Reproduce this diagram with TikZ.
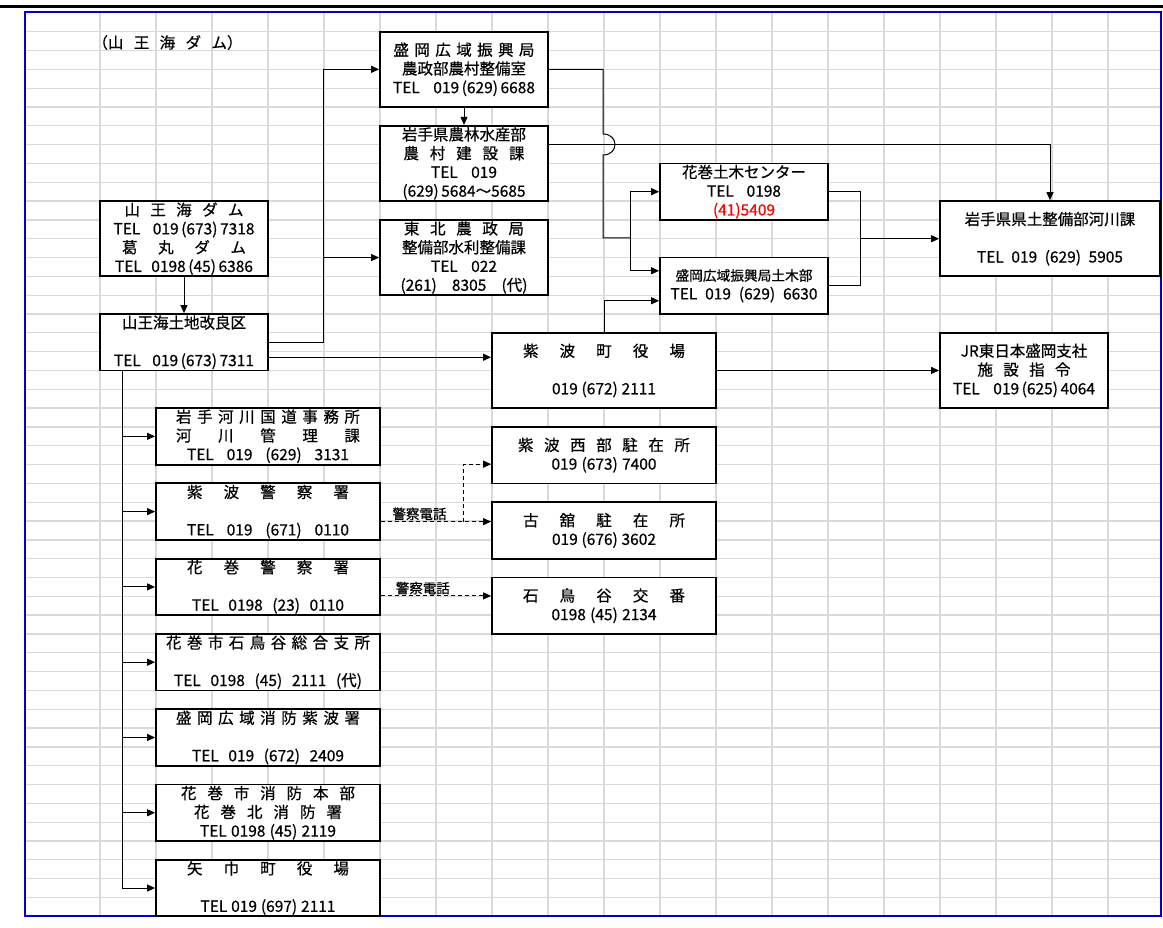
\documentclass[tikz,border=0pt]{standalone}
\usepackage{fontspec}
\setmainfont{Noto Sans CJK JP}[FakeBold=0.6]
\usetikzlibrary{arrows.meta}

\definecolor{gridgray}{HTML}{D9D9D9}
\definecolor{frameblue}{HTML}{0000CC}
\newcommand{\wide}[2]{\makebox[#1pt][s]{#2}}

\begin{document}
\begin{tikzpicture}[x=1pt, y=-1pt, >={Triangle[length=8pt,width=7pt]},
  font=\fontsize{15.5}{18.8}\selectfont, line width=1pt,
  cell/.style={gridgray, line width=1.3pt},
  box/.style={draw, line width=1.8pt, fill=white, inner sep=0pt, align=center},
  box3/.style={box, minimum height=56.5pt},
  box4/.style={box, minimum height=75.3pt},
  police/.style={dash pattern=on 4pt off 3pt},
  tag/.style={font=\fontsize{13.5}{15}\selectfont, inner sep=1pt}]
\useasboundingbox (0,0) rectangle (1163,928);
% sheet: grid, frame and top rule
\foreach \k in {1,...,47}
  \draw[cell] (25,{12.9+18.82*\k}) -- (1161,{12.9+18.82*\k});
\foreach \c in {0,...,18}
  \draw[cell] ({100+56*\c},12) -- ({100+56*\c},916);
\draw[frameblue, line width=2pt] (25,12) rectangle (1161,916);
\draw[line width=3pt] (0,6.3) -- (1163,6.3);

\node[anchor=west, inner sep=0pt] (title) at (92,42.5) {\wide{150}{（山 王 海 ダ ム）}};

% dams and land improvement district
\node[box4, minimum width=168pt] (sanno) at (184,238.74)
  {\wide{119}{山 王 海 ダ ム}\\ \wide{141}{TEL 019\,(673)\,7318}\\ \wide{124}{葛 丸 ダ ム}\\ \wide{138}{TEL 0198\,(45)\,6386}};
\node[box3, minimum width=168pt] (kairyo) at (184,342.25)
  {山王海土地改良区\\[18.8pt] \wide{140}{TEL 019\,(673)\,7311}};

% prefecture and state offices
\node[box4, minimum width=168pt] (noson) at (464,69.36)
  {\wide{141}{盛 岡 広 域 振 興 局}\\ 農政部農村整備室\\ \wide{142}{TEL 019\,(629)\,6688}};
\node[box4, minimum width=168pt] (ken) at (464,163.46)
  {岩手県農林水産部\\ \wide{121}{農 村 建 設 課}\\ \wide{66}{TEL 019}\\ (629)\,5684～5685};
\node[box4, minimum width=168pt] (tohoku) at (464,257.56)
  {\wide{120}{東 北 農 政 局}\\ 整備部水利整備課\\ \wide{66}{TEL 022}\\ \wide{127}{(261) 8305 (代)}};
\node[box3, minimum width=168pt] (hanadoboku) at (744,191.69)
  {花巻土木センター\\ \wide{74}{TEL 0198}\\ \textcolor{red}{(41)5409}};
\node[box3, minimum width=168pt] (dobokubu) at (744,285.79)
  {{\fontsize{13.7}{18.8}\selectfont 盛岡広域振興局土木部}\\ \wide{147}{TEL 019 (629) 6630}};
\node[box4, minimum width=220pt] (kasen) at (1050,238.74)
  {岩手県県土整備部河川課\\[18.8pt] \wide{146}{TEL 019 (629) 5905}};
\node[box4, minimum width=224pt] (shiwacho) at (604,370.48)
  {\wide{162}{紫 波 町 役 場}\\[18.8pt] \wide{104}{019 (672) 2111}};
\node[box4, minimum width=168pt] (jr) at (1024,370.48)
  {JR東日本盛岡支社\\ \wide{93}{施 設 指 令}\\ \wide{142}{TEL 019\,(625)\,4064}};

% left column
\node[box3, minimum width=224pt] (kokudo) at (268,436.35)
  {\wide{184}{岩 手 河 川 国 道 事 務 所}\\ \wide{184}{河 川 管 理 課}\\ \wide{162}{TEL 019 (629) 3131}};
\node[box3, minimum width=224pt] (shiwakeisatsu) at (268,511.63)
  {\wide{162}{紫 波 警 察 署}\\[18.8pt] \wide{162}{TEL 019 (671) 0110}};
\node[box3, minimum width=224pt] (hanakeisatsu) at (268,586.91)
  {\wide{162}{花 巻 警 察 署}\\[18.8pt] \wide{152}{TEL 0198 (23) 0110}};
\node[box3, minimum width=224pt] (ishidoriya) at (268,662.19)
  {\wide{204}{花 巻 市 石 鳥 谷 総 合 支 所}\\[18.8pt] \wide{188}{TEL 0198 (45) 2111 (代)}};
\node[box3, minimum width=224pt] (shobo) at (268,737.47)
  {\wide{184}{盛 岡 広 域 消 防 紫 波 署}\\[18.8pt] \wide{152}{TEL 019 (672) 2409}};
\node[box3, minimum width=224pt] (hanashobo) at (268,812.75)
  {\wide{174}{花 巻 市 消 防 本 部}\\ \wide{148}{花 巻 北 消 防 署}\\ \wide{136}{TEL 0198 (45) 2119}};
\node[box3, minimum width=224pt] (yahaba) at (268,888.03)
  {\wide{162}{矢 巾 町 役 場}\\[18.8pt] \wide{135}{TEL 019 (697) 2111}};

% police boxes
\node[box3, minimum width=224pt] (seibu) at (604,455.17)
  {\wide{172}{紫 波 西 部 駐 在 所}\\ \wide{105}{019 (673) 7400}};
\node[box3, minimum width=224pt] (furudate) at (604,530.45)
  {\wide{162}{古 舘 駐 在 所}\\ \wide{104}{019 (676) 3602}};
\node[box3, minimum width=224pt] (koban) at (604,605.73)
  {\wide{162}{石 鳥 谷 交 番}\\ \wide{105}{0198 (45) 2134}};

% connectors
\draw[->] (sanno) -- (kairyo);
\draw[->] (noson) -- (ken);
\draw[->] (kairyo.east) -- ++(55,0) |- (noson.west);
\draw[->] (kairyo.east) -- ++(55,0) |- (tohoku.west);
\coordinate (kd) at ([yshift=-15pt]kairyo.east);
\draw[->] (kd) -- (kd -| shiwacho.west);
\draw[->] (shiwacho.north) |- ([yshift=-15pt]dobokubu.west);
\draw[->] (shiwacho) -- (jr);
\draw[->] ([yshift=18.8pt]ken.east) -| (kasen.north);
% line from noson hops over the one from ken
\coordinate (split) at (630,238);
\draw (noson.east) -| (603,134) .. controls (619,134) and (619,155) .. (603,155) -- (603,238) -- (split);
\draw[->] (split) |- (hanadoboku.west);
\draw[->] (split) |- ([yshift=15pt]dobokubu.west);
\coordinate (merge) at ([xshift=-79pt]kasen.west);
\draw (hanadoboku.east) -| (merge);
\draw (dobokubu.east) -| (merge);
\draw[->] (merge) -- (kasen.west);
% left trunk
\coordinate (trunk) at ([xshift=-62pt]kairyo.south);
\foreach \b in {kokudo,shiwakeisatsu,hanakeisatsu,ishidoriya,shobo,hanashobo,yahaba}
  \draw[->] (trunk) |- (\b.west);
% police phone lines
\coordinate (ka) at ([yshift=-10pt]shiwakeisatsu.east);
\draw[police,->] (ka) -- (ka -| furudate.west) node[tag, pos=.35, above] {警察電話};
\draw[police,->] ([xshift=83pt]ka) |- ([yshift=-9pt]seibu.west);
\coordinate (kb) at ([yshift=-9pt]hanakeisatsu.east);
\draw[police,->] (kb) -- (kb -| koban.west) node[tag, pos=.38, above] {警察電話};
\end{tikzpicture}
\end{document}
